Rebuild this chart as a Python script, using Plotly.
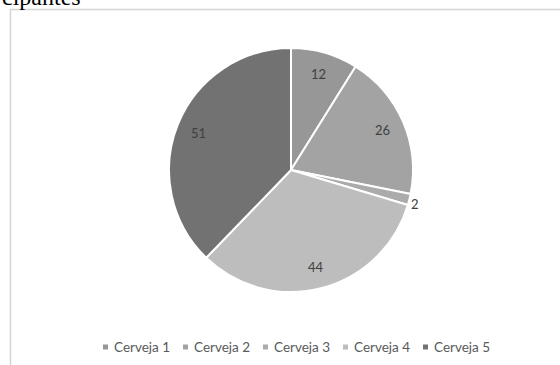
import math
import plotly.graph_objects as go

categories = ["Cerveja 1", "Cerveja 2", "Cerveja 3", "Cerveja 4", "Cerveja 5"]
values = [12, 26, 2, 44, 51]
colors = ["#979797", "#a3a3a3", "#ababab", "#bdbdbd", "#727272"]
label_outside = [False, False, True, False, False]

W, H = 560, 365
cx, cy, r = 291, 170, 122

fig = go.Figure()
fig.add_trace(go.Pie(
    labels=categories,
    values=values,
    sort=False,
    direction="clockwise",
    rotation=0,
    marker=dict(colors=colors, line=dict(color="white", width=2)),
    textinfo="none",
    domain=dict(x=[(cx - r) / W, (cx + r) / W], y=[1 - (cy + r) / H, 1 - (cy - r) / H]),
    hoverinfo="label+value",
    showlegend=False,
))

annotations = []
# data labels, placed from the slice angles computed from the values
total = sum(values)
cum = 0
for v, out in zip(values, label_outside):
    mid = (cum + v / 2) / total * 2 * math.pi
    cum += v
    d = r * (1.05 if out else 0.82)
    px = cx + d * math.sin(mid)
    py = cy - d * math.cos(mid) + (3 if out else 0)
    annotations.append(dict(
        text=str(v), xref="paper", yref="paper",
        x=px / W, y=1 - py / H, xanchor="center", yanchor="middle",
        showarrow=False,
        font=dict(family="Lato", size=13, color="#404040"),
    ))

# legend row
shapes = [dict(
    type="rect", xref="paper", yref="paper",
    x0=10.5 / W, x1=1.05, y0=-0.05, y1=1 - 9.5 / H,
    line=dict(color="#d4d4d4", width=1.5),
    fillcolor="rgba(0,0,0,0)", layer="below",
)]
leg_x0, leg_step, leg_y = 103, 80, 347
for i, (name, col) in enumerate(zip(categories, colors)):
    mx = leg_x0 + i * leg_step
    shapes.append(dict(
        type="rect", xref="paper", yref="paper",
        x0=mx / W, x1=(mx + 5) / W, y0=1 - (leg_y + 2.5) / H, y1=1 - (leg_y - 2.5) / H,
        line=dict(width=0), fillcolor=col,
    ))
    annotations.append(dict(
        text=name, xref="paper", yref="paper",
        x=(mx + 9) / W, y=1 - leg_y / H, xanchor="left", yanchor="middle",
        showarrow=False,
        font=dict(family="Lato", size=13.5, color="#595959"),
    ))

annotations.append(dict(
    text="cipantes", xref="paper", yref="paper",
    x=0, y=1, xanchor="left", yanchor="bottom", yshift=-12,
    showarrow=False,
    font=dict(family="Liberation Serif", size=24, color="#000000"),
))

fig.update_layout(
    width=W, height=H,
    margin=dict(l=0, r=0, t=0, b=0),
    paper_bgcolor="white",
    plot_bgcolor="white",
    showlegend=False,
    shapes=shapes,
    annotations=annotations,
)

fig.write_html("out.html")
